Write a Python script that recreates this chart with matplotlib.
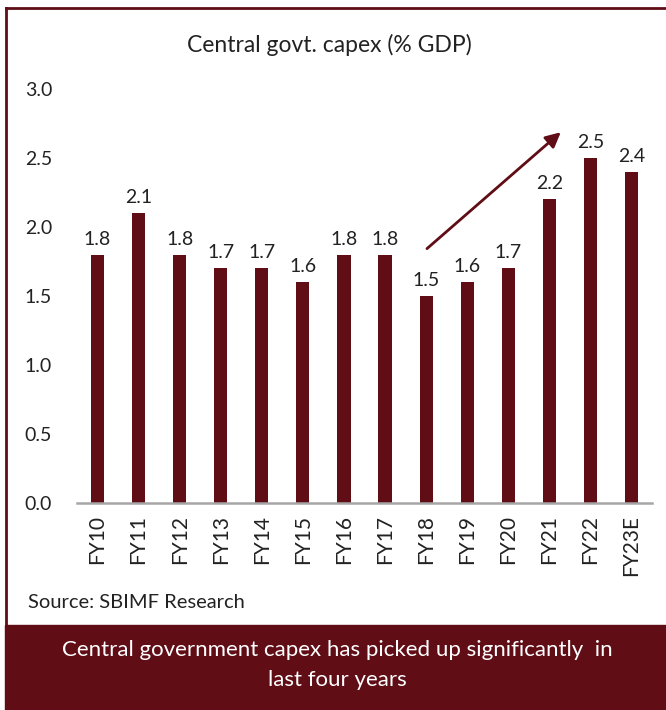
import matplotlib.pyplot as plt
from matplotlib.patches import Rectangle
from matplotlib.lines import Line2D

plt.rcParams['font.family'] = ['Lato', 'DejaVu Sans']

years = ['FY10', 'FY11', 'FY12', 'FY13', 'FY14', 'FY15', 'FY16',
         'FY17', 'FY18', 'FY19', 'FY20', 'FY21', 'FY22', 'FY23E']
capex = [1.8, 2.1, 1.8, 1.7, 1.7, 1.6, 1.8, 1.8, 1.5, 1.6, 1.7, 2.2, 2.5, 2.4]
yticks = [0.0, 0.5, 1.0, 1.5, 2.0, 2.5, 3.0]

maroon = '#600d16'
W, H = 666, 710

fig = plt.figure(figsize=(W / 100, H / 100), dpi=100)

# frame lines and bottom banner
fig.add_artist(Line2D([6 / W, 6 / W], [1 - 8 / H, 1 - 625 / H], color=maroon, lw=2))
fig.add_artist(Line2D([6 / W, 1], [1 - 8 / H, 1 - 8 / H], color=maroon, lw=2))
fig.add_artist(Rectangle((5 / W, 0), 1 - 5 / W, 1 - 625 / H,
                         transform=fig.transFigure, color=maroon, zorder=0))

ax = fig.add_axes([77 / W, 1 - 503 / H, 575 / W, 414 / H])
x = range(len(years))
ax.bar(x, capex, width=0.32, color=maroon, zorder=2)
for i, v in enumerate(capex):
    ax.annotate(f'{v:.1f}', (i, v), xytext=(0, 5), textcoords='offset points',
                ha='center', va='bottom', fontsize=14, color='#222222')

ax.set_xlim(-0.5, len(years) - 0.5)
ax.set_ylim(0, 3.0)
ax.set_yticks(yticks)
ax.set_yticklabels([f'{t:.1f}' for t in yticks], fontsize=14, color='#222222')
ax.set_xticks(list(x))
ax.set_xticklabels(years, rotation=90, fontsize=15, color='#222222')
ax.tick_params(axis='both', length=0)
ax.tick_params(axis='x', pad=9)
ax.tick_params(axis='y', pad=18)
for s in ['top', 'right', 'left']:
    ax.spines[s].set_visible(False)
ax.spines['bottom'].set_color('#a6a6a6')
ax.spines['bottom'].set_linewidth(1.8)

# trend arrow
ax.annotate('', xy=(11.33, 2.70), xytext=(7.97, 1.83),
            arrowprops=dict(arrowstyle='-|>,head_length=0.9,head_width=0.45',
                            color=maroon, lw=2))

fig.text(329 / W, 1 - 45 / H, 'Central govt. capex (% GDP)', ha='center', va='center',
         fontsize=16.5, color='#222222')
fig.text(28 / W, 1 - 603 / H, 'Source: SBIMF Research', ha='left', va='center',
         fontsize=14.5, color='#222222')
fig.text(337 / W, 1 - 650 / H, 'Central government capex has picked up significantly  in',
         ha='center', va='center', fontsize=16, color='white')
fig.text(337 / W, 1 - 680 / H, 'last four years', ha='center', va='center',
         fontsize=16, color='white')

fig.savefig('out.png', dpi=100)
